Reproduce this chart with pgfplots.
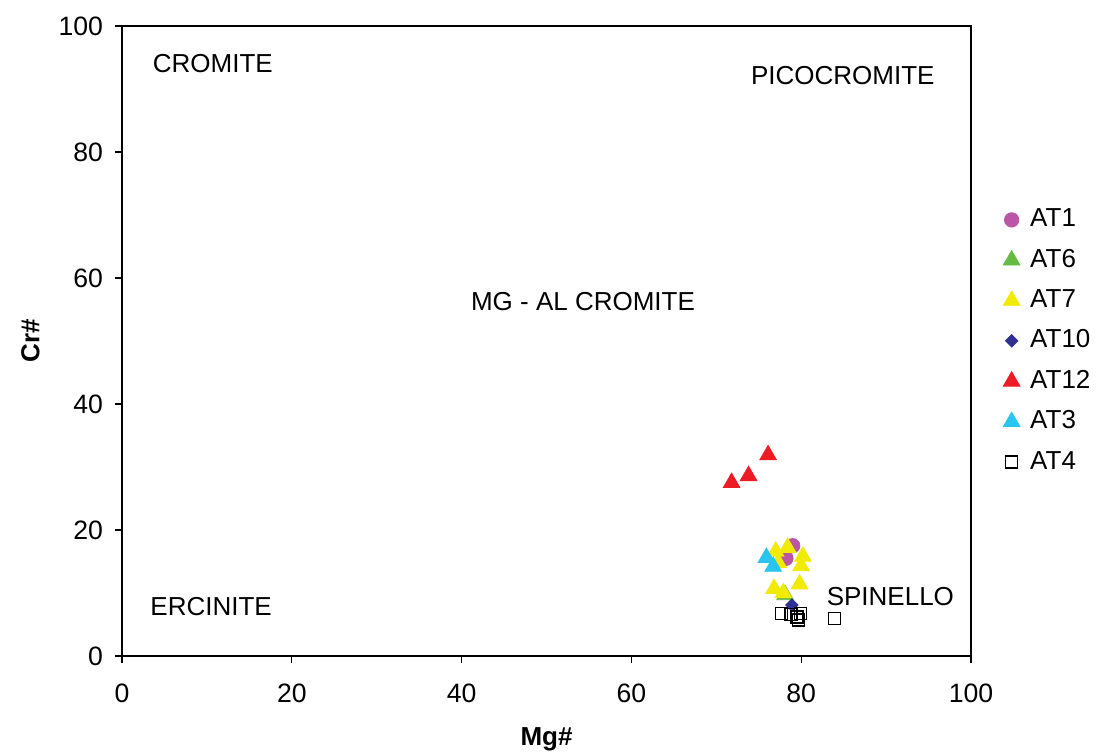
\documentclass[border=0pt]{standalone}
\usepackage{fontspec}
\setmainfont{Liberation Sans}
\usepackage{pgfplots}
\pgfplotsset{compat=1.18}
\definecolor{cAT1}{RGB}{186,85,168}
\definecolor{cAT6}{RGB}{102,187,68}
\definecolor{cAT7}{RGB}{240,235,0}
\definecolor{cAT10}{RGB}{46,49,146}
\definecolor{cAT12}{RGB}{237,28,36}
\definecolor{cAT3}{RGB}{41,197,240}
\begin{document}
\fontsize{13}{15.6}\selectfont
\begin{tikzpicture}
\useasboundingbox (-61pt,-49pt) rectangle (487pt,328pt);
\begin{axis}[
  scale only axis, width=424.5pt, height=315pt,
  xmin=0, xmax=100, ymin=0, ymax=100,
  xtick={0,20,...,100}, ytick={0,20,...,100},
  tick align=outside, tick pos=left,
  major tick length=3.5pt,
  axis line style={black, line width=0.6pt},
  tick style={black, line width=0.6pt},
  /pgf/number format/assume math mode=true,
  ticklabel style={font=\fontsize{13.3}{16}\selectfont},
  xticklabel style={yshift=-6pt},
  yticklabel style={xshift=-1.5pt},
  xlabel={\textbf{Mg\#}},
  label style={font=\fontsize{13}{15.6}\selectfont},
  xlabel style={at={(axis description cs:0.5,-0.133)}, anchor=center},
  legend style={at={(1.0229,0.5)}, anchor=west, draw=none, fill=none,
    font=\fontsize{13}{15.6}\selectfont, row sep=5.2pt, inner sep=0pt},
  legend image code/.code={\path (0cm,0cm) (0.6cm,0cm); \draw[#1] plot coordinates {(10.1pt,0cm)};},
  legend cell align=left,
  clip=false,
]
\addplot[only marks, mark=*, mark size=3.6pt, color=cAT1] coordinates {
(79.0,17.5) (78.2,15.5)};
\addlegendentry{AT1}
\addplot[only marks, mark=triangle*, mark size=4.8pt, color=cAT6] coordinates {
(78.1,9.7)};
\addlegendentry{AT6}
\addplot[only marks, mark=triangle*, mark size=4.8pt, color=cAT7] coordinates {
(77.0,16.6) (78.4,17.2) (80.2,15.8) (80.0,14.3) (79.8,11.4) (76.8,10.7) (77.9,10.0) (77.3,14.8)};
\addlegendentry{AT7}
\addplot[only marks, mark=square*, mark size=2.2pt, mark options={rotate=45}, color=cAT10] coordinates {
(78.9,8.1)};
\addlegendentry{AT10}
\addplot[only marks, mark=triangle*, mark size=4.8pt, color=cAT12] coordinates {
(76.1,31.9) (73.8,28.6) (71.8,27.5)};
\addlegendentry{AT12}
\addplot[only marks, mark=triangle*, mark size=4.8pt, color=cAT3] coordinates {
(75.9,15.6) (76.7,14.2)};
\addlegendentry{AT3}
\addplot[only marks, mark=square, mark size=3pt, color=black, line width=0.6pt] coordinates {
(77.7,6.8) (78.8,6.6) (79.5,6.2) (79.9,6.8) (79.7,5.7) (83.9,5.9)};
\addlegendentry{AT4}
\node[font=\fontsize{13}{15.6}\selectfont\bfseries, rotate=90] at (rel axis cs:-0.108,0.5) {Cr\#};
\node[font=\fontsize{13}{15.6}\selectfont] at (axis cs:10.7,94.1) {CROMITE};
\node[font=\fontsize{13}{15.6}\selectfont] at (axis cs:84.9,92.1) {PICOCROMITE};
\node[font=\fontsize{13}{15.6}\selectfont] at (axis cs:54.3,56.2) {MG - AL CROMITE};
\node[font=\fontsize{13}{15.6}\selectfont] at (axis cs:10.5,7.8) {ERCINITE};
\node[font=\fontsize{13}{15.6}\selectfont] at (axis cs:90.5,9.5) {SPINELLO};
\end{axis}
\end{tikzpicture}
\end{document}
